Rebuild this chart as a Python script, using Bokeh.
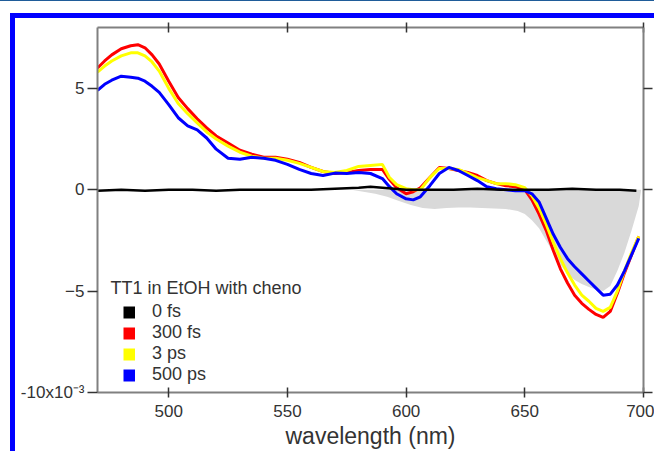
import math
from bokeh.plotting import figure
from bokeh.models import Range1d, LinearAxis, FixedTicker, Label, Legend, LegendItem
from bokeh.embed import file_html
from bokeh.resources import INLINE

# ---------------- data (ΔOD in units of 1e-3) ----------------
wl = [470, 473, 476, 480, 484, 487, 490, 493, 496, 500, 504, 508, 512, 516, 520,
      525, 530, 535, 540, 545, 550, 555, 560, 565, 570, 575, 580, 585, 590, 593,
      596, 600, 603, 606, 610, 614, 618, 622, 626, 630, 634, 638, 642, 646, 650,
      653, 656, 659, 662, 665, 668, 671, 674, 677, 680, 683, 686, 689, 692, 695, 698]

od_300fs = [6.0, 6.35, 6.65, 6.95, 7.1, 7.15, 7.0, 6.65, 6.2, 5.35, 4.55, 4.0, 3.5, 3.05, 2.65,
            2.3, 1.95, 1.75, 1.6, 1.6, 1.5, 1.35, 1.1, 0.9, 0.8, 0.85, 0.95, 1.0, 1.0, 0.5,
            0.1, -0.2, -0.1, 0.1, 0.6, 1.1, 1.05, 0.95, 0.85, 0.7, 0.45, 0.3, 0.2, 0.15, 0.0,
            -0.5, -1.2, -2.0, -3.0, -3.9, -4.6, -5.2, -5.6, -5.9, -6.15, -6.3, -6.0, -5.1, -4.1, -3.2, -2.3]

od_3ps = [5.8, 6.1, 6.35, 6.6, 6.75, 6.75, 6.6, 6.3, 5.85, 5.0, 4.25, 3.75, 3.3, 2.85, 2.5,
          2.15, 1.85, 1.65, 1.55, 1.55, 1.45, 1.3, 1.1, 0.9, 0.85, 0.95, 1.15, 1.2, 1.25, 0.6,
          0.25, 0.05, 0.0, 0.0, 0.6, 1.05, 1.05, 1.0, 0.8, 0.6, 0.45, 0.3, 0.3, 0.25, 0.1,
          -0.3, -0.9, -1.7, -2.6, -3.4, -4.1, -4.7, -5.2, -5.5, -5.85, -6.0, -5.8, -5.0, -4.0, -3.1, -2.3]

od_500ps = [4.9, 5.2, 5.4, 5.6, 5.55, 5.5, 5.35, 5.1, 4.8, 4.2, 3.55, 3.15, 2.95, 2.55, 2.0,
            1.55, 1.5, 1.6, 1.55, 1.45, 1.25, 1.0, 0.8, 0.7, 0.82, 0.8, 0.85, 0.8, 0.55, 0.15,
            -0.2, -0.45, -0.5, -0.35, 0.2, 0.8, 1.1, 0.95, 0.7, 0.45, 0.15, 0.05, 0.0, -0.05, -0.05,
            -0.2, -0.6, -1.4, -2.2, -2.85, -3.4, -3.8, -4.15, -4.5, -4.85, -5.2, -5.15, -4.7, -4.0, -3.2, -2.4]

wl_0fs = [470, 480, 490, 500, 510, 520, 530, 540, 550, 560, 570, 580, 585, 590,
          600, 610, 620, 630, 640, 650, 660, 670, 680, 690, 697]
od_0fs = [-0.05, 0.0, -0.05, 0.0, 0.0, -0.05, 0.0, 0.0, 0.0, 0.0, 0.05, 0.1, 0.15, 0.1,
          0.0, 0.0, 0.0, 0.05, 0.0, 0.0, 0.0, 0.05, 0.0, 0.0, -0.05]

# steady-state absorption (negated, scaled) shown as grey area
wl_abs = [577, 582, 587, 592, 597, 602, 607, 612, 617, 622, 627, 632, 637, 642, 647, 650,
          653, 656, 659, 662, 665, 668, 671, 674, 677, 680, 683, 686, 689, 692, 695, 698, 699]
od_abs = [0.0, -0.1, -0.2, -0.35, -0.55, -0.75, -0.9, -0.95, -0.9, -0.88, -0.88, -0.9, -0.92, -0.95, -1.05, -1.2,
          -1.5, -1.9, -2.5, -3.1, -3.7, -4.15, -4.45, -4.65, -4.8, -4.92, -5.0, -4.75, -4.0, -3.1, -2.0, -0.8, 0.0]
zero_abs = [0.0] * len(wl_abs)

x_ticks = [500, 550, 600, 650, 700]
y_ticks = [-10, -5, 0, 5]
series_labels = ["0 fs", "300 fs", "3 ps", "500 ps"]
series_colors = ["#000000", "#ff0000", "#ffff00", "#0000ff"]

FONT = "Liberation Sans"
TXT = "#333333"
AXC = "#808080"

p = figure(width=639, height=433, x_range=Range1d(470, 700), y_range=Range1d(-10, 8),
           output_backend="svg", toolbar_location=None,
           min_border_left=82, min_border_right=11, min_border_top=9, min_border_bottom=59)
# page frame: thick blue bars on top/left plus thin dark line at the very top
p.styles = {
    "margin-left": "15px", "margin-top": "18px",
    "box-shadow": ("0 -5px 0 0 #0000ff, -5px -5px 0 0 #0000ff, -5px 0 0 0 #0000ff, "
                   "0 -17px 0 0 #ffffff, -15px -17px 0 0 #ffffff, "
                   "0 -18px 0 0 #1f5c99, -15px -18px 0 0 #1f5c99"),
}
p.grid.visible = False
p.outline_line_color = None
p.background_fill_color = "white"
p.border_fill_color = "white"

# grey steady-state band
p.varea(x=wl_abs, y1=od_abs, y2=zero_abs, fill_color="#d9d9d9")

# transient spectra
p.line(wl, od_300fs, line_color=series_colors[1], line_width=3)
p.line(wl, od_3ps, line_color=series_colors[2], line_width=3)
p.line(wl, od_500ps, line_color=series_colors[3], line_width=3)
p.line(wl_0fs, od_0fs, line_color=series_colors[0], line_width=2.5)

def style_axis(ax, ticks, tin, tout, show_labels=True):
    ax.ticker = FixedTicker(ticks=ticks)
    ax.axis_line_color = AXC
    ax.axis_line_width = 2
    ax.major_tick_line_color = "#333333"
    ax.major_tick_line_width = 1.5
    ax.major_tick_in = tin
    ax.major_tick_out = tout
    ax.minor_tick_line_color = None
    ax.major_label_text_font = FONT
    ax.major_label_text_color = TXT
    if show_labels:
        ax.major_label_text_font_size = "17px"
    else:
        ax.major_label_text_font_size = "1px"
        ax.major_label_text_color = None
        ax.major_label_standoff = 0

xa = p.xaxis[0]
style_axis(xa, x_ticks, 5, 5)
xa.major_label_standoff = 7
xa.axis_label = "wavelength (nm)"
xa.axis_label_text_font = FONT
xa.axis_label_text_font_size = "23px"
xa.axis_label_text_font_style = "normal"
xa.axis_label_text_color = TXT
xa.axis_label_standoff = 3

style_axis(p.yaxis[0], y_ticks, 0, 10)
p.yaxis[0].major_label_standoff = 3
p.yaxis[0].major_label_overrides = {-10: "-10x10\u207b\u00b3"}

top = LinearAxis()
style_axis(top, x_ticks, 5, 5, show_labels=False)
p.add_layout(top, "above")
right = LinearAxis()
style_axis(right, y_ticks, 0, 9, show_labels=False)
p.add_layout(right, "right")

# y-axis title
p.add_layout(Label(x=441.6, y=-0.95, text="ΔOD", angle=math.pi / 2, text_align="center",
                   text_baseline="middle", text_font=FONT, text_font_size="22px", text_color=TXT))

# legend: thick hidden copies of the spectra give square swatches
p.add_layout(Label(x=475.5, y=-4.85, text="TT1 in EtOH with cheno", text_align="left",
                   text_baseline="middle", text_font=FONT, text_font_size="18px", text_color=TXT))
sw0 = p.line(wl_0fs, od_0fs, line_color=series_colors[0], line_width=12, visible=False)
sw1 = p.line(wl, od_300fs, line_color=series_colors[1], line_width=12, visible=False)
sw2 = p.line(wl, od_3ps, line_color=series_colors[2], line_width=12, visible=False)
sw3 = p.line(wl, od_500ps, line_color=series_colors[3], line_width=12, visible=False)
swatches = [sw0, sw1, sw2, sw3]
legend = Legend(items=[LegendItem(label=l, renderers=[r]) for l, r in zip(series_labels, swatches)],
                location=(26, 7), glyph_width=12, glyph_height=18, label_height=18,
                spacing=0, padding=0, margin=0, label_standoff=17,
                border_line_color=None, background_fill_alpha=0,
                label_text_font=FONT, label_text_font_size="18px", label_text_color=TXT)
p.add_layout(legend)

open("out.html", "w").write(file_html(p, INLINE))
